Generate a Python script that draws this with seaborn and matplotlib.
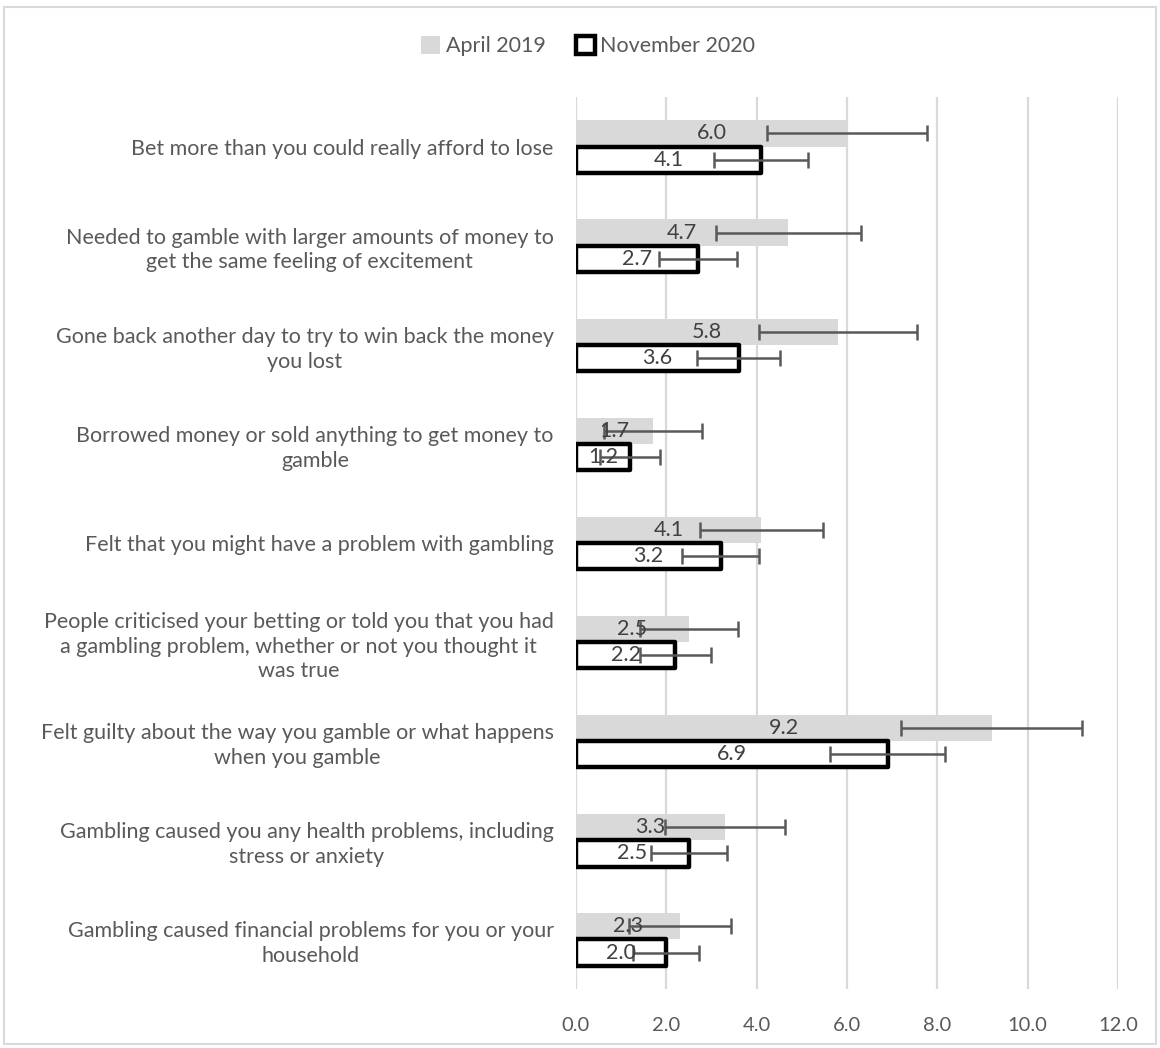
import numpy as np
import pandas as pd
import matplotlib
matplotlib.use("Agg")
import matplotlib.pyplot as plt
from matplotlib.patches import Rectangle
from matplotlib.transforms import offset_copy
import seaborn as sns

categories = [
    "Bet more than you could really afford to lose",
    "Needed to gamble with larger amounts of money to\nget the same feeling of excitement",
    "Gone back another day to try to win back the money\nyou lost",
    "Borrowed money or sold anything to get money to\ngamble",
    "Felt that you might have a problem with gambling",
    "People criticised your betting or told you that you had\na gambling problem, whether or not you thought it\nwas true",
    "Felt guilty about the way you gamble or what happens\nwhen you gamble",
    "Gambling caused you any health problems, including\nstress or anxiety",
    "Gambling caused financial problems for you or your\nhousehold",
]
periods = ["April 2019", "November 2020"]
april_values = [6.0, 4.7, 5.8, 1.7, 4.1, 2.5, 9.2, 3.3, 2.3]
nov_values = [4.1, 2.7, 3.6, 1.2, 3.2, 2.2, 6.9, 2.5, 2.0]
april_err = [1.78, 1.60, 1.75, 1.08, 1.36, 1.08, 2.00, 1.33, 1.13]
nov_err = [1.04, 0.86, 0.92, 0.67, 0.86, 0.79, 1.27, 0.84, 0.73]
x_ticks = [0, 2, 4, 6, 8, 10, 12]

df = pd.DataFrame({
    "category": categories * 2,
    "period": [periods[0]] * len(categories) + [periods[1]] * len(categories),
    "value": april_values + nov_values,
})

sns.set_style("white")
plt.rcParams["font.family"] = ["Lato", "DejaVu Sans"]
text_color = "#595959"

fig = plt.figure(figsize=(11.6, 10.48), dpi=100)
ax = fig.add_axes([576 / 1160, 1 - 989 / 1048, (1118 - 576) / 1160, (989 - 97) / 1048])

sns.barplot(data=df, y="category", x="value", hue="period", order=categories,
            hue_order=periods, palette={periods[0]: "#d9d9d9", periods[1]: "white"},
            saturation=1, width=0.53, errorbar=None, ax=ax, orient="h")

cont_a, cont_n = ax.containers[0], ax.containers[1]
for p in cont_a:
    p.set_edgecolor("none")
for p in cont_n:
    p.set_edgecolor("black")
    p.set_linewidth(3.2)
    p.set_joinstyle("round")

for cont, vals, errs in [(cont_a, april_values, april_err), (cont_n, nov_values, nov_err)]:
    ys = [p.get_y() + p.get_height() / 2 for p in cont]
    ax.errorbar(vals, ys, xerr=errs, fmt="none", ecolor=text_color, elinewidth=1.8,
                capsize=6, capthick=1.8, zorder=4)
    texts = ax.bar_label(cont, labels=[f"{v:.1f}" for v in vals], label_type="center",
                         color="#404040", fontsize=15.5, zorder=5)
    for t in texts:
        t.set_transform(offset_copy(t.get_transform(), fig=fig, x=0, y=-2, units="points"))

if ax.get_legend() is not None:
    ax.get_legend().remove()

ax.set_xlim(0, 12)
ax.set_ylim(len(categories) - 0.5, -0.5)
ax.set_xticks(x_ticks)
ax.set_xticklabels([f"{v:.1f}" for v in x_ticks])
ax.set_xlabel("")
ax.set_ylabel("")
ax.xaxis.grid(True, color="#d9d9d9", linewidth=1.6)
ax.yaxis.grid(False)
ax.set_axisbelow(True)
for s in ax.spines.values():
    s.set_visible(False)
ax.tick_params(axis="x", length=0, pad=20, labelsize=14.5, labelcolor=text_color)
ax.tick_params(axis="y", length=0, pad=16, labelsize=15.5, labelcolor=text_color)
for t in ax.get_yticklabels():
    t.set_multialignment("center")
    t.set_linespacing(1.3)

leg = fig.legend([cont_a[0], cont_n[0]], periods, loc="center", bbox_to_anchor=(0.507, 1 - 46 / 1048),
                 ncol=2, frameon=False, fontsize=15.5, handlelength=0.9, handleheight=0.9,
                 handletextpad=0.25, columnspacing=1.4, labelcolor=text_color)

fig.patches.append(Rectangle((4 / 1160, 4 / 1048), 1152 / 1160, 1037 / 1048,
                             transform=fig.transFigure, fill=False,
                             edgecolor="#d9d9d9", linewidth=1.5))

fig.savefig("out.png", dpi=100)
